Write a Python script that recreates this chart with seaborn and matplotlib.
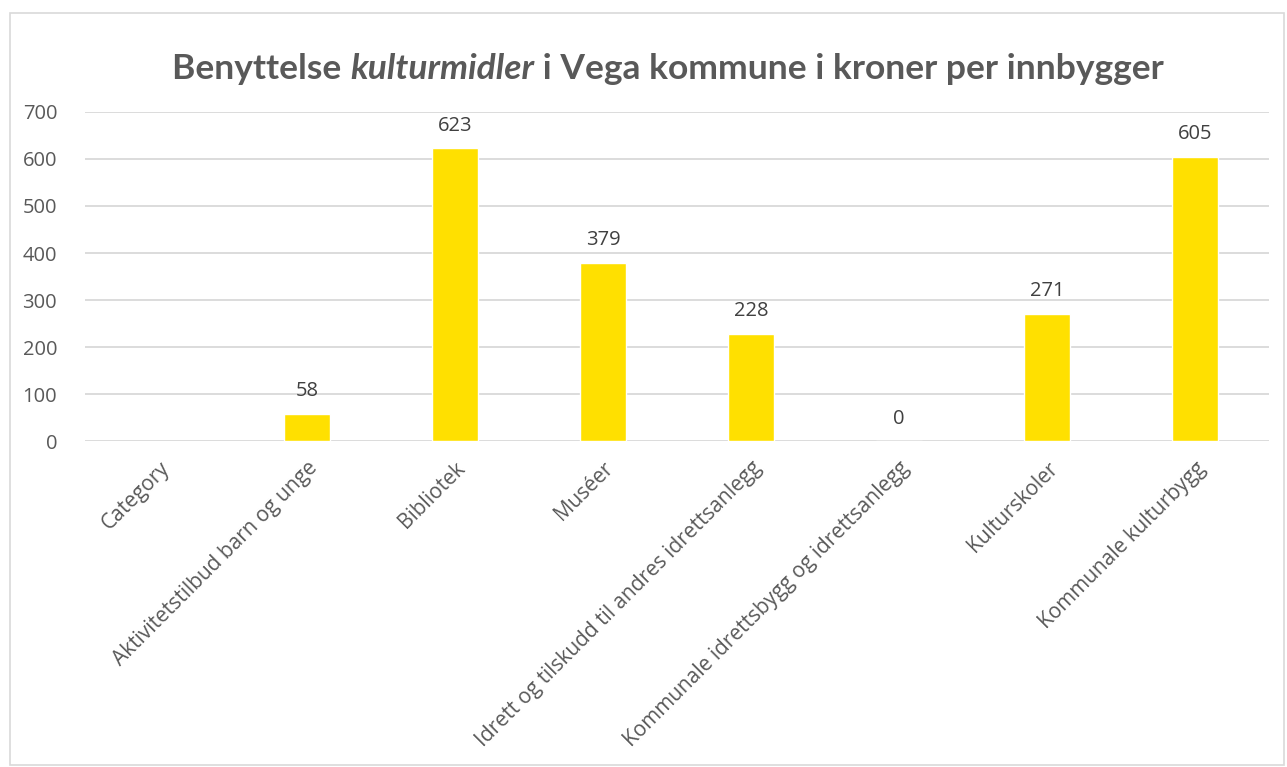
import numpy as np
import pandas as pd
import matplotlib
matplotlib.use("Agg")
import matplotlib.pyplot as plt
import seaborn as sns

categories = ["Category", "Aktivitetstilbud barn og unge", "Bibliotek", "Muséer",
              "Idrett og tilskudd til andres idrettsanlegg",
              "Kommunale idrettsbygg og idrettsanlegg", "Kulturskoler",
              "Kommunale kulturbygg"]
values = [np.nan, 58, 623, 379, 228, 0, 271, 605]
y_ticks = [0, 100, 200, 300, 400, 500, 600, 700]

BAR = "#FFE000"
TEXT = "#595959"
GRID = "#D9D9D9"

sns.set_style("white")
plt.rcParams["font.family"] = ["Open Sans", "DejaVu Sans"]

df = pd.DataFrame({"kategori": categories, "kroner": values})

fig = plt.figure(figsize=(12.87, 7.67), dpi=100)
ax = fig.add_axes([0.066, 0.425, 0.92, 0.429])

sns.barplot(data=df, x="kategori", y="kroner", color=BAR, width=0.31,
            saturation=1, ax=ax, zorder=3)

ax.set_ylim(0, 700)
ax.set_xlim(-0.5, len(categories) - 0.5)
ax.set_yticks(y_ticks)
ax.set_yticklabels([str(t) for t in y_ticks], fontsize=14.5, color=TEXT)
ax.yaxis.grid(True, color=GRID, linewidth=1.3, zorder=0)
ax.set_axisbelow(True)
ax.tick_params(axis="both", length=0)
ax.tick_params(axis="y", pad=20)
ax.set_xlabel("")
ax.set_ylabel("")
for s in ax.spines.values():
    s.set_visible(False)
ax.set_xticks(range(len(categories)))
ax.set_xticklabels(categories, rotation=45, ha="right", rotation_mode="anchor",
                   fontsize=15, color=TEXT)
ax.tick_params(axis="x", pad=12)

# data labels
for i, v in enumerate(values):
    if np.isnan(v):
        continue
    ax.annotate(f"{v:.0f}", (i, v), xytext=(0, 9), textcoords="offset points",
                ha="center", va="bottom", fontsize=14.5, color="#404040")

# chart border
fig.patches.append(plt.Rectangle((0.008, 0.003), 0.99, 0.98, transform=fig.transFigure,
                                 fill=False, edgecolor=GRID, linewidth=1.2))

# title with italic word
parts = [("Benyttelse ", "normal"), ("kulturmidler", "italic"),
         (" i Vega kommune i kroner per innbygger", "normal")]
renderer = fig.canvas.get_renderer()
texts = []
for txt, style in parts:
    t = fig.text(0, 0.91, txt, fontsize=25.5, fontweight="bold", style=style,
                 color=TEXT, family="Lato", va="center", ha="left")
    texts.append(t)
widths = [t.get_window_extent(renderer).width for t in texts]
total = sum(widths)
x = (fig.bbox.width * 0.519 - total / 2)
for t, w in zip(texts, widths):
    t.set_x(x / fig.bbox.width)
    x += w

fig.savefig("out.png", dpi=100)
